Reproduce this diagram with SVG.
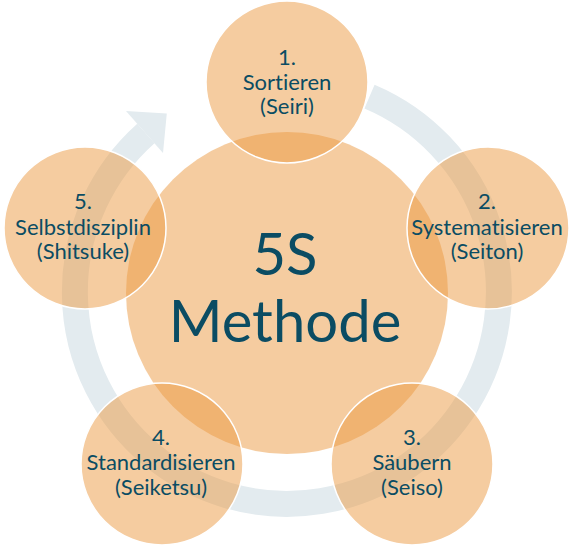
<svg xmlns="http://www.w3.org/2000/svg" width="575" height="547" viewBox="0 0 575 547">
  <style>
    .ring { fill: none; stroke: #e3ebef; stroke-width: 26; stroke-linecap: butt; }
    .head { fill: #e3ebef; }
    .big { fill: #eb9941; fill-opacity: 0.5; }
    .step { fill: #eb9941; fill-opacity: 0.5; stroke: #ffffff; stroke-width: 1.5; }
    text { font-family: Lato, "Open Sans", "Liberation Sans", sans-serif; fill: #0b4c63; text-anchor: middle; font-variant-ligatures: none; font-feature-settings: "liga" 0; }
    .lbl { font-size: 22px; }
    .title { font-size: 58px; }
  </style>
  <rect width="575" height="547" fill="#ffffff"/>
  <g id="connectors">
    <path class="ring" d="M 369.5 96.6 A 212 212 0 1 1 145.9 133.5"/>
    <polygon class="head" points="126,111 166.8,113.5 163,153"/>
  </g>
  <g id="center">
    <circle class="big" cx="287" cy="293" r="161"/>
  </g>
  <g id="step1">
    <circle class="step" cx="287" cy="82" r="81"/>
  </g>
  <g id="step2">
    <circle class="step" cx="488" cy="228" r="81"/>
  </g>
  <g id="step3">
    <circle class="step" cx="412" cy="464" r="81"/>
  </g>
  <g id="step4">
    <circle class="step" cx="162" cy="464" r="81"/>
  </g>
  <g id="step5">
    <circle class="step" cx="85" cy="228" r="81"/>
  </g>
  <g id="labels">
    <text class="title" x="285" y="275">5S</text>
    <text class="title" x="285" y="342">Methode</text>
    <text class="lbl" x="287" y="65">1.</text>
    <text class="lbl" x="287" y="90">Sortieren</text>
    <text class="lbl" x="287" y="114">(Seiri)</text>
    <text class="lbl" x="487" y="209">2.</text>
    <text class="lbl" x="487" y="235">Systematisieren</text>
    <text class="lbl" x="487" y="259">(Seiton)</text>
    <text class="lbl" x="412" y="445">3.</text>
    <text class="lbl" x="412" y="470">Säubern</text>
    <text class="lbl" x="412" y="495">(Seiso)</text>
    <text class="lbl" x="161" y="445">4.</text>
    <text class="lbl" x="161" y="470">Standardisieren</text>
    <text class="lbl" x="161" y="495">(Seiketsu)</text>
    <text class="lbl" x="83" y="209">5.</text>
    <text class="lbl" x="83" y="235">Selbstdisziplin</text>
    <text class="lbl" x="83" y="259">(Shitsuke)</text>
  </g>
</svg>
